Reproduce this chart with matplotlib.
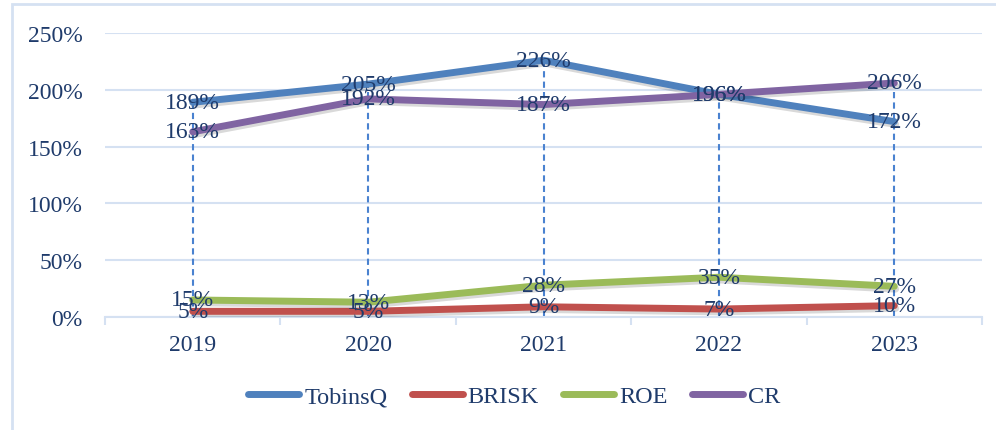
import matplotlib.pyplot as plt
import matplotlib.patheffects as pe
from matplotlib.patches import Rectangle
from matplotlib.lines import Line2D

years = ["2019", "2020", "2021", "2022", "2023"]
tobinsq = [1.89, 2.05, 2.26, 1.96, 1.72]
brisk = [0.05, 0.05, 0.09, 0.07, 0.10]
roe = [0.15, 0.13, 0.28, 0.35, 0.27]
cr = [1.63, 1.92, 1.87, 1.96, 2.06]

series_names = ["TobinsQ", "BRISK", "ROE", "CR"]
series_colors = ["#4F81BD", "#C0504D", "#9BBB59", "#8064A2"]

text_color = "#1F3B6B"
grid_color = "#D5E1F2"
fs = 17

plt.rcParams['font.family'] = ['Liberation Serif', 'DejaVu Serif']

fig = plt.figure(figsize=(9.96, 4.31), dpi=100)
ax = fig.add_axes([105 / 996, 113 / 431, 877 / 996, 284 / 431])

# chart border (light blue frame, right/bottom off the image)
fig.patches.append(Rectangle((12 / 996, -0.05), 1.2, 1 - 5 / 431 + 0.05,
                             transform=fig.transFigure, fill=False,
                             edgecolor=grid_color, lw=2))

x = list(range(len(years)))
all_series = [tobinsq, brisk, roe, cr]

# drop lines from the highest point of each category to the axis
tops = [max(vals) for vals in zip(*all_series)]
ax.vlines(x, 0, tops, colors="#4A82D0", linestyles=(0, (3, 2)), lw=1.5, zorder=2)

shadow = [pe.SimpleLineShadow(offset=(1.0, -2.0), shadow_color="black", alpha=0.15),
          pe.Normal()]
for name, vals, col in zip(series_names, all_series, series_colors):
    ax.plot(x, vals, color=col, lw=5, solid_capstyle="round",
            path_effects=shadow, zorder=3)

for vals in all_series:
    for xi, v in zip(x, vals):
        ax.text(xi, v, f"{v * 100:.0f}%", ha="center", va="center",
                fontsize=fs, color=text_color, zorder=5)

ax.set_xlim(-0.5, len(years) - 0.5)
ax.set_ylim(0, 2.5)
ax.set_yticks([0, 0.5, 1.0, 1.5, 2.0, 2.5])
ax.set_yticklabels(["0%", "50%", "100%", "150%", "200%", "250%"])
ax.set_xticks(x)
ax.set_xticklabels(years)
ax.set_xticks([i - 0.5 for i in range(len(years) + 1)], minor=True)
ax.tick_params(axis="y", length=0, labelsize=fs, labelcolor=text_color, pad=16)
ax.tick_params(axis="x", which="major", length=0, labelsize=fs, labelcolor=text_color, pad=12)
ax.tick_params(axis="x", which="minor", length=6, width=1.5, color=grid_color)

ax.grid(axis="y", color=grid_color, lw=1.5)
ax.set_axisbelow(True)
for side in ["top", "right", "left"]:
    ax.spines[side].set_visible(False)
ax.spines["bottom"].set_color(grid_color)
ax.spines["bottom"].set_linewidth(1.5)

handles = [Line2D([], [], color=c, lw=5, solid_capstyle="round") for c in series_colors]
fig.legend(handles, series_names, loc="center", bbox_to_anchor=(514 / 996, 1 - 397 / 431),
           ncol=4, frameon=False, fontsize=fs + 0.5, labelcolor=text_color,
           handlelength=2.1, handletextpad=0.2, columnspacing=1.0)

fig.savefig("out.png", dpi=100)
